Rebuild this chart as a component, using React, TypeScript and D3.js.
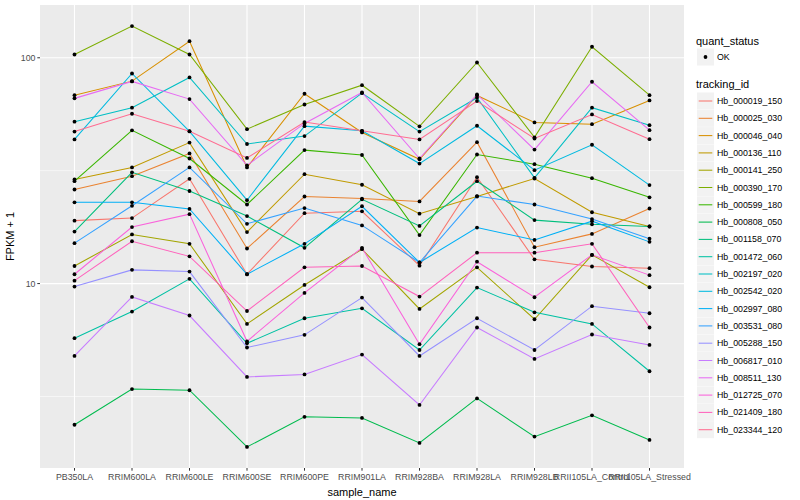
import React from 'react';
import * as d3 from 'd3';

const samples = [
    "PB350LA", "RRIM600LA", "RRIM600LE", "RRIM600SE", "RRIM600PE", "RRIM901LA",
    "RRIM928BA", "RRIM928LA", "RRIM928LB", "RRII105LA_Control", "RRII105LA_Stressed",
];

// FPKM + 1 per sample
const hb_000019_150 = [19.0, 19.5, 29.1, 11.0, 20.5, 20.9, 12.0, 29.6, 12.8, 11.9, 11.7];
const hb_000025_030 = [26.1, 29.9, 37.7, 14.3, 24.3, 23.8, 23.1, 42.3, 14.5, 16.6, 21.5];
const hb_000046_040 = [68.3, 78.8, 118.4, 32.7, 69.3, 46.7, 35.5, 68.1, 51.7, 50.8, 64.7];
const hb_000136_110 = [28.9, 32.7, 42.1, 16.9, 30.5, 27.4, 20.4, 24.3, 29.2, 20.7, 17.9];
const hb_000141_250 = [11.96, 16.5, 15.0, 6.63, 9.86, 14.2, 7.72, 11.8, 6.95, 13.4, 9.63];
const hb_000390_170 = [103.4, 138.2, 103.4, 48.3, 62.1, 75.6, 49.7, 95.3, 44.4, 111.9, 68.3];
const hb_000599_180 = [28.4, 47.7, 35.8, 22.4, 39.0, 37.1, 16.4, 37.3, 33.8, 29.3, 24.1];
const hb_000808_050 = [2.37, 3.41, 3.37, 1.89, 2.57, 2.54, 1.97, 3.10, 2.10, 2.61, 2.03];
const hb_001158_070 = [17.0, 31.1, 25.7, 19.9, 14.4, 23.6, 18.0, 28.4, 19.1, 18.3, 17.9];
const hb_001472_060 = [5.73, 7.52, 10.5, 5.44, 7.02, 7.77, 5.08, 9.60, 7.46, 6.63, 4.09];
const hb_002197_020 = [52.1, 60.1, 81.8, 41.5, 45.0, 69.7, 47.1, 66.5, 29.4, 60.1, 50.3];
const hb_002542_020 = [43.5, 85.2, 47.2, 23.4, 49.8, 47.5, 34.0, 50.0, 31.8, 41.2, 27.3];
const hb_002997_080 = [22.9, 22.9, 21.4, 11.0, 15.0, 22.0, 12.4, 17.7, 15.6, 18.9, 15.3];
const hb_003531_080 = [15.1, 22.1, 32.7, 18.4, 21.6, 18.1, 12.4, 24.4, 22.4, 19.3, 15.8];
const hb_005288_150 = [9.70, 11.5, 11.3, 5.21, 5.93, 8.67, 4.78, 7.02, 5.08, 7.94, 7.39];
const hb_006817_010 = [4.78, 8.73, 7.22, 3.86, 3.96, 4.85, 2.90, 6.39, 4.64, 5.95, 5.35];
const hb_008511_130 = [66.1, 78.6, 65.6, 33.4, 51.2, 70.2, 35.8, 68.8, 39.2, 78.3, 47.8];
const hb_012725_070 = [11.0, 17.8, 20.3, 5.55, 9.09, 14.4, 5.39, 12.5, 8.70, 13.4, 10.9];
const hb_021409_180 = [10.3, 15.4, 13.2, 7.56, 11.8, 11.96, 8.76, 13.7, 13.7, 15.0, 6.39];
const hb_023344_120 = [47.1, 56.5, 47.3, 36.0, 51.9, 47.5, 43.5, 64.3, 43.9, 56.1, 43.6];

const trackingIds = [
    "Hb_000019_150", "Hb_000025_030", "Hb_000046_040", "Hb_000136_110", "Hb_000141_250",
    "Hb_000390_170", "Hb_000599_180", "Hb_000808_050", "Hb_001158_070", "Hb_001472_060",
    "Hb_002197_020", "Hb_002542_020", "Hb_002997_080", "Hb_003531_080", "Hb_005288_150",
    "Hb_006817_010", "Hb_008511_130", "Hb_012725_070", "Hb_021409_180", "Hb_023344_120",
];
const seriesValues = [
    hb_000019_150, hb_000025_030, hb_000046_040, hb_000136_110, hb_000141_250,
    hb_000390_170, hb_000599_180, hb_000808_050, hb_001158_070, hb_001472_060,
    hb_002197_020, hb_002542_020, hb_002997_080, hb_003531_080, hb_005288_150,
    hb_006817_010, hb_008511_130, hb_012725_070, hb_021409_180, hb_023344_120,
];

const yTicks = [10, 100];
const yMinor = [Math.pow(10, 0.5), Math.pow(10, 1.5)];

// ggplot hue palette, 20 levels
const colors = [
    "#F8766D", "#EA8331", "#D89000", "#C09B00", "#A3A500", "#7CAE00", "#39B600", "#00BB4E",
    "#00BF7D", "#00C1A3", "#00BFC4", "#00BAE0", "#00B0F6", "#35A2FF", "#9590FF", "#C77CFF",
    "#E76BF3", "#FA62DB", "#FF62BC", "#FF6C91",
];

const font = "'Liberation Sans', Arial, Helvetica, sans-serif";

export default function App() {
    const width = 800;
    const height = 500;
    const panel = { left: 40, right: 684, top: 5, bottom: 468 };

    const xScale = d3.scalePoint<string>()
        .domain(samples)
        .range([panel.left, panel.right])
        .padding(0.6);

    // log scale with ggplot's 5% expansion
    const all = seriesValues.flat();
    const lo = Math.log10(d3.min(all)!);
    const hi = Math.log10(d3.max(all)!);
    const pad = (hi - lo) * 0.05;
    const yScale = d3.scaleLog()
        .domain([Math.pow(10, lo - pad), Math.pow(10, hi + pad)])
        .range([panel.bottom, panel.top]);

    const line = d3.line<number>()
        .x((_, i) => xScale(samples[i])!)
        .y(d => yScale(d));

    const legendX = 697;
    const rowH = 17.3;
    const firstRow = 101;

    return (
        <svg width={width} height={height} style={{ display: 'block', position: 'absolute', left: 0, top: 0 }} fontFamily={font}>
            <rect x={0} y={0} width={width} height={height} fill="white" />
            <rect x={panel.left} y={panel.top} width={panel.right - panel.left} height={panel.bottom - panel.top} fill="#EBEBEB" />

            {yMinor.map(v => (
                <line key={'mi' + v} x1={panel.left} x2={panel.right} y1={yScale(v)} y2={yScale(v)} stroke="white" strokeWidth={0.55} />
            ))}
            {yTicks.map(v => (
                <line key={'ma' + v} x1={panel.left} x2={panel.right} y1={yScale(v)} y2={yScale(v)} stroke="white" strokeWidth={1.1} />
            ))}
            {samples.map(s => (
                <line key={'vx' + s} x1={xScale(s)} x2={xScale(s)} y1={panel.top} y2={panel.bottom} stroke="white" strokeWidth={1.1} />
            ))}

            {seriesValues.map((vals, i) => (
                <path key={'l' + i} d={line(vals)!} fill="none" stroke={colors[i]} strokeWidth={1.05} />
            ))}
            {seriesValues.map((vals, i) => vals.map((v, j) => (
                <circle key={'p' + i + '-' + j} cx={xScale(samples[j])} cy={yScale(v)} r={1.9} fill="black" />
            )))}

            {/* y axis */}
            {yTicks.map(v => (
                <g key={'yt' + v}>
                    <line x1={panel.left - 2.7} x2={panel.left} y1={yScale(v)} y2={yScale(v)} stroke="#333333" strokeWidth={1} />
                    <text x={panel.left - 4.5} y={yScale(v)} dy="0.35em" textAnchor="end" fontSize={8.8} fill="#4D4D4D">{v}</text>
                </g>
            ))}
            <text transform={`translate(14, ${(panel.top + panel.bottom) / 2}) rotate(-90)`} textAnchor="middle" fontSize={11} fill="black">FPKM + 1</text>

            {/* x axis */}
            {samples.map(s => (
                <g key={'xt' + s}>
                    <line x1={xScale(s)} x2={xScale(s)} y1={panel.bottom} y2={panel.bottom + 2.7} stroke="#333333" strokeWidth={1} />
                    <text x={xScale(s)} y={panel.bottom + 9} dy="0.35em" textAnchor="middle" fontSize={8.8} fill="#4D4D4D">{s}</text>
                </g>
            ))}
            <text x={(panel.left + panel.right) / 2} y={492} dy="0.35em" textAnchor="middle" fontSize={11} fill="black">sample_name</text>

            {/* legends */}
            <text x={legendX - 1} y={41} dy="0.35em" fontSize={11} fill="black">quant_status</text>
            <rect x={legendX} y={57 - 8.5} width={17} height={17} fill="#F2F2F2" />
            <circle cx={legendX + 8.5} cy={57} r={1.9} fill="black" />
            <text x={legendX + 20} y={57} dy="0.35em" fontSize={8.8} fill="black">OK</text>

            <text x={legendX - 1} y={84.5} dy="0.35em" fontSize={11} fill="black">tracking_id</text>
            {trackingIds.map((id, i) => {
                const cy = firstRow + i * rowH;
                return (
                    <g key={'lg' + id}>
                        <rect x={legendX} y={cy - 8.5} width={17} height={17} fill="#F2F2F2" />
                        <line x1={legendX + 1.7} x2={legendX + 15.3} y1={cy} y2={cy} stroke={colors[i]} strokeWidth={1.05} />
                        <text x={legendX + 20} y={cy} dy="0.35em" fontSize={8.8} fill="black">{id}</text>
                    </g>
                );
            })}
        </svg>
    );
}
